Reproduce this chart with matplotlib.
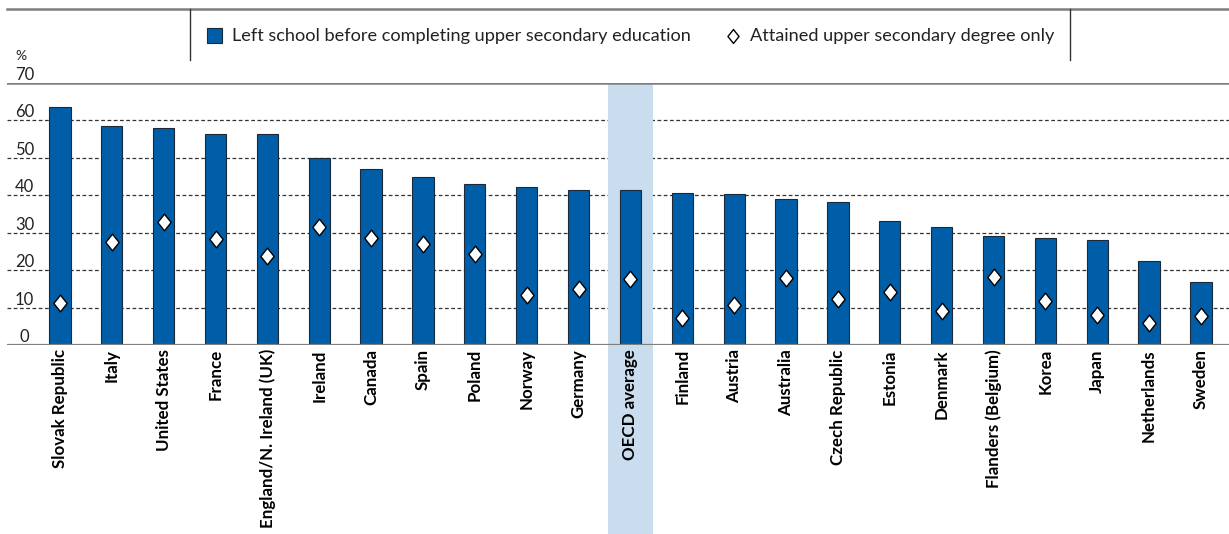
import matplotlib
matplotlib.use("Agg")
import matplotlib.pyplot as plt
from matplotlib.path import Path
from matplotlib.lines import Line2D
import matplotlib.transforms as mtransforms
import numpy as np

countries = ["Slovak Republic", "Italy", "United States", "France", "England/N. Ireland (UK)",
             "Ireland", "Canada", "Spain", "Poland", "Norway", "Germany", "OECD average",
             "Finland", "Austria", "Australia", "Czech Republic", "Estonia", "Denmark",
             "Flanders (Belgium)", "Korea", "Japan", "Netherlands", "Sweden"]
left_school = [63.6, 58.4, 57.9, 56.4, 56.4, 50.0, 47.1, 45.0, 42.9, 42.2, 41.4, 41.4,
               40.6, 40.3, 39.0, 38.2, 33.2, 31.6, 29.1, 28.5, 28.0, 22.5, 16.7]
upper_sec = [11.3, 27.6, 32.9, 28.3, 23.9, 31.5, 28.5, 27.0, 24.3, 13.4, 15.0, 17.6,
             7.2, 10.6, 18.0, 12.2, 14.2, 9.1, 18.3, 11.8, 8.1, 6.0, 7.7]
yticks = [0, 10, 20, 30, 40, 50, 60, 70]
highlight = "OECD average"
legend_labels = ["Left school before completing upper secondary education",
                 "Attained upper secondary degree only"]

FONT = "Lato"
BLUE = "#005EA8"
BAND = "#C9DDEE"
GREY = "#7f7f7f"

W, H = 1229, 534
fig = plt.figure(figsize=(W / 100, H / 100), dpi=100)
ax = fig.add_axes([7 / W, 1 - 345 / H, 1 - 7 / W, (345 - 83) / H])

x = np.arange(len(countries))
hi = countries.index(highlight)
band_bottom = -(H - 345) / (345 - 83)
ax.add_patch(plt.Rectangle((hi - 0.43, band_bottom), 0.86, 1 - band_bottom,
                           transform=ax.get_xaxis_transform(), facecolor=BAND, lw=0,
                           zorder=1.5, clip_on=False))

for t in yticks[1:-1]:
    ax.axhline(t, color="#333333", lw=0.9, ls=(0, (3, 2)), zorder=1)
ax.axhline(70, color=GREY, lw=1.8, zorder=1.6)
ax.axhline(0, color=GREY, lw=1.6, zorder=4)

ax.bar(x, left_school, width=0.41, color=BLUE, edgecolor="#1a2a3a", linewidth=0.8, zorder=2)

diamond = Path([(0, 1), (0.8, 0), (0, -1), (-0.8, 0), (0, 1)],
               [Path.MOVETO, Path.LINETO, Path.LINETO, Path.LINETO, Path.CLOSEPOLY])
ax.plot(x, upper_sec, ls="none", marker=diamond, markersize=12, markerfacecolor="white",
        markeredgecolor="black", markeredgewidth=1.0, zorder=3)

ax.set_xlim(-1.02, len(countries) - 1 + 0.54)
ax.set_ylim(0, 70)
for s in ax.spines.values():
    s.set_visible(False)
ax.set_yticks([])
ax.set_xticks(x)
ax.set_xticklabels(countries, rotation=90, fontfamily=FONT, fontweight="bold", fontsize=12.2,
                   va="top", ha="center")
ax.tick_params(axis="x", length=0, pad=3)
for lbl in ax.get_xticklabels():
    lbl.set_zorder(5)

# y tick labels inside, above gridlines
off = mtransforms.offset_copy(ax.get_yaxis_transform(), fig=fig, x=0, y=3, units="dots")
for t in yticks:
    ax.text((24.5 - 7) / (W - 7), t, str(t), transform=off, ha="center", va="baseline",
            fontfamily=FONT, fontsize=12, color="#222222")
fig.text(21 / W, 1 - 60 / H, "%", ha="center", va="baseline", fontfamily=FONT,
         fontsize=10, color="#222222")

# legend frame lines
fig.add_artist(Line2D([7 / W, 1], [1 - 9 / H, 1 - 9 / H], transform=fig.transFigure,
                      color=GREY, lw=1.8))
for xv in (190, 1070):
    fig.add_artist(Line2D([xv / W, xv / W], [1 - 9 / H, 1 - 60 / H], transform=fig.transFigure,
                          color="#333333", lw=1.0))
# legend entries
fig.patches.append(plt.Rectangle((207 / W, 1 - 43 / H), 15 / W, 15 / H, transform=fig.transFigure,
                                 facecolor=BLUE, edgecolor="#1a2a3a", lw=0.8))
fig.text(232 / W, 1 - 36 / H, legend_labels[0], ha="left", va="center", fontfamily=FONT,
         fontsize=13.1, color="#222222")
fig.add_artist(Line2D([733 / W], [1 - 36 / H], transform=fig.transFigure, marker=diamond,
                      markersize=10, markerfacecolor="white", markeredgecolor="black",
                      markeredgewidth=1.0, ls="none"))
fig.text(750 / W, 1 - 36 / H, legend_labels[1], ha="left", va="center", fontfamily=FONT,
         fontsize=13.1, color="#222222")

fig.savefig("out.png", dpi=100)
